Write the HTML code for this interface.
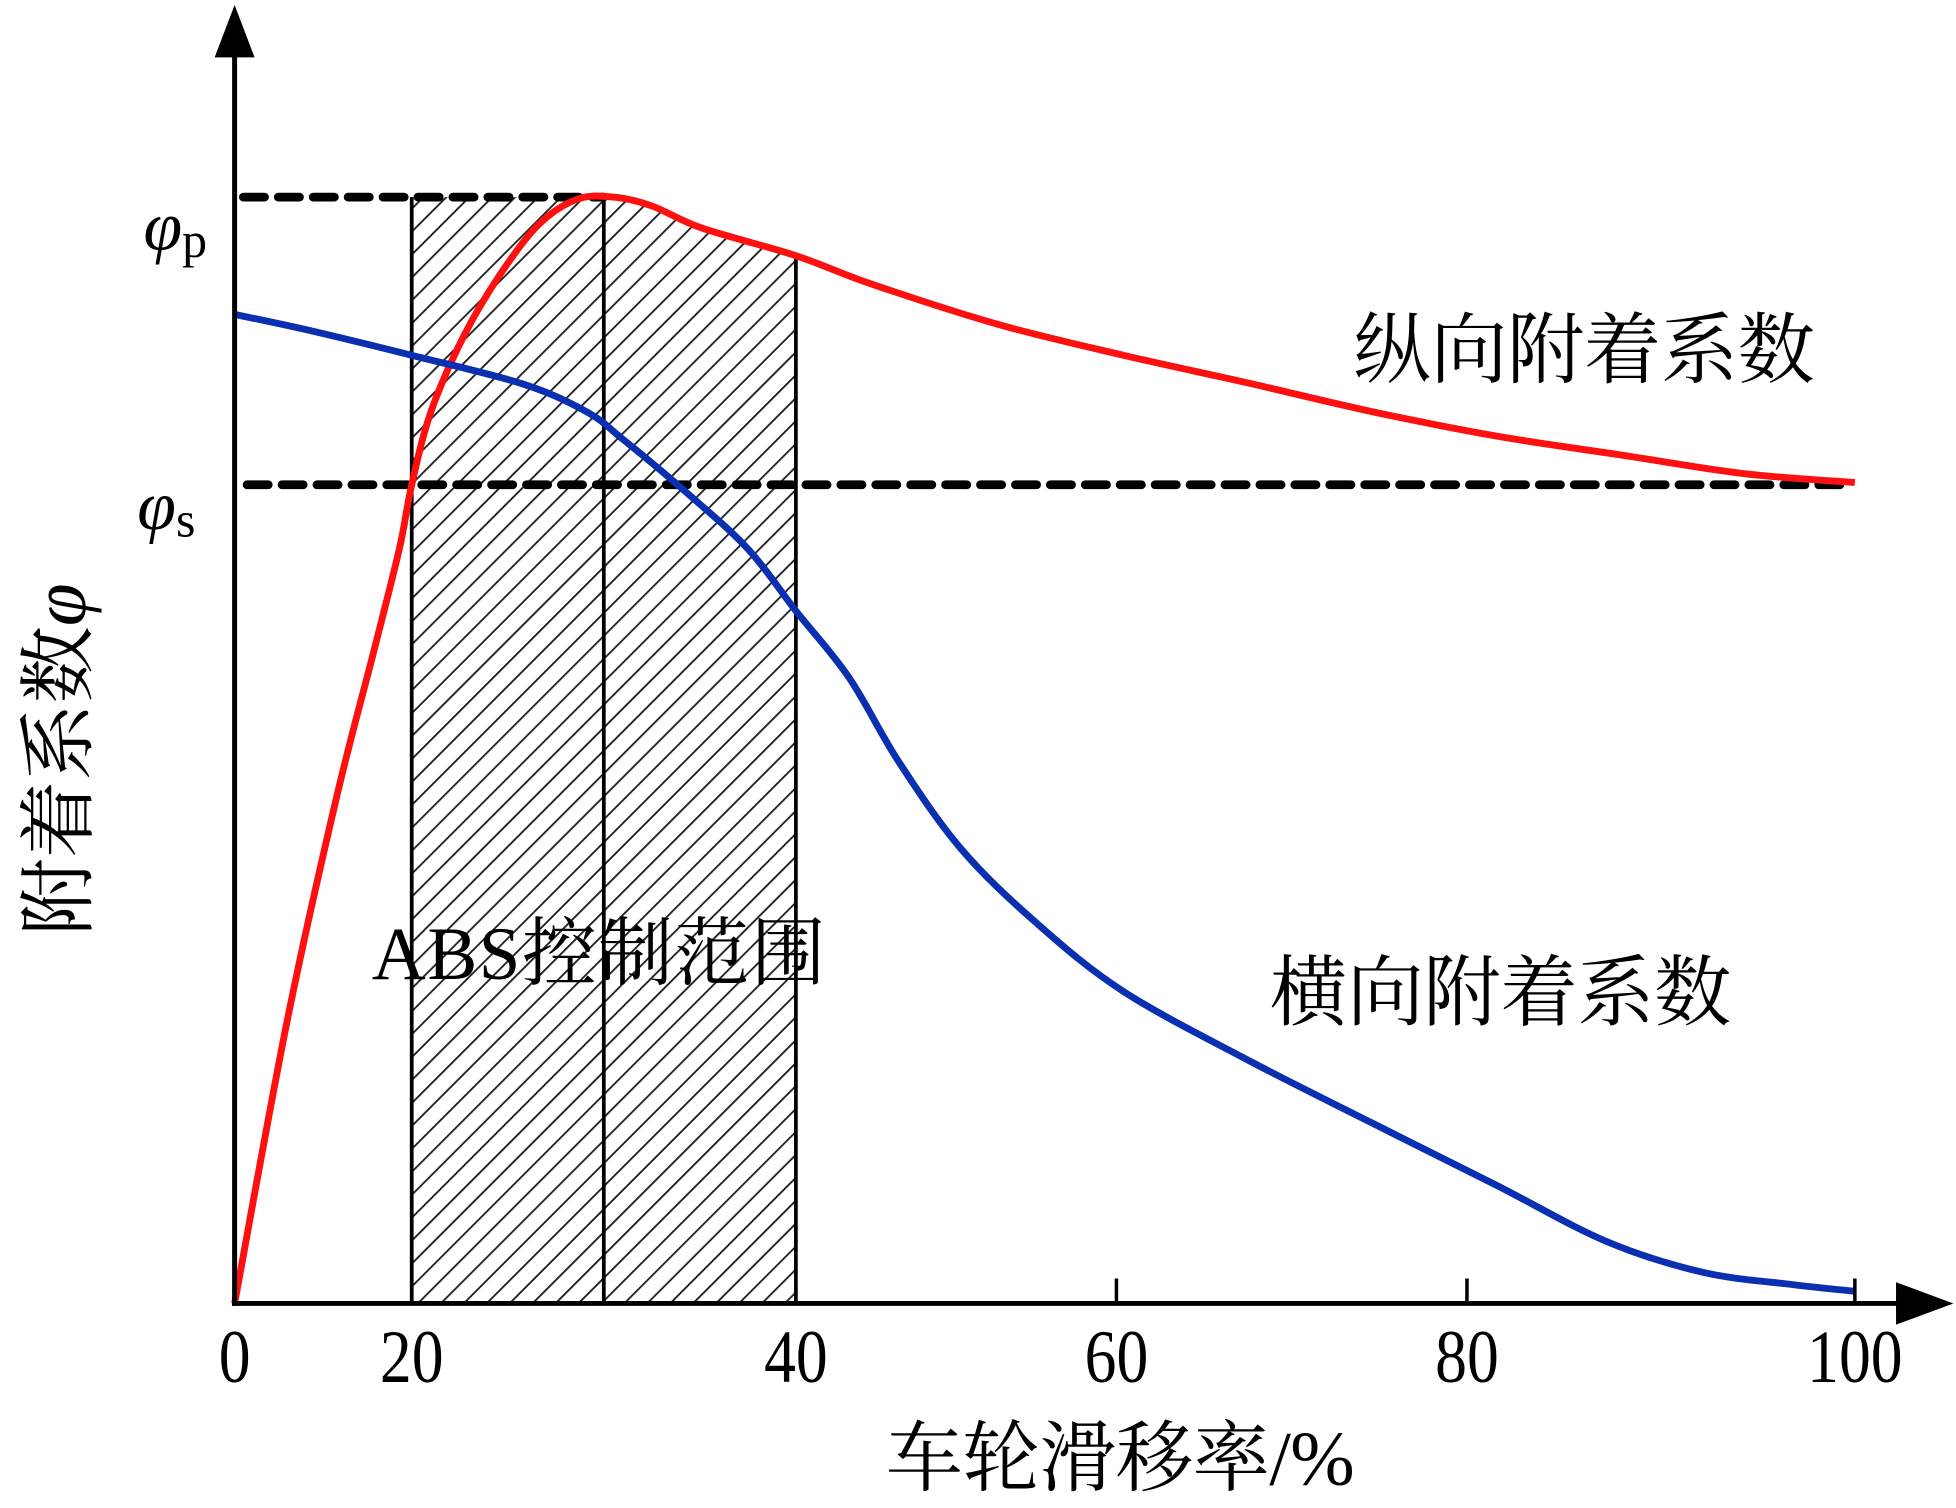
<!DOCTYPE html>
<html><head><meta charset="utf-8"><style>
html,body{margin:0;padding:0;background:#fff;}
svg{display:block;}
text{font-family:"Liberation Serif","Noto Serif CJK SC","Noto Sans CJK SC",serif;fill:#000;}
.cjk{font-family:"Liberation Serif","Noto Serif CJK SC",serif;}
</style></head><body>
<svg id="chart" width="1956" height="1508" viewBox="0 0 1568 1209" xmlns="http://www.w3.org/2000/svg">
<defs>
<pattern id="hatch" patternUnits="userSpaceOnUse" width="13" height="13" patternTransform="rotate(45)">
<line x1="0" y1="0" x2="0" y2="13" stroke="#222" stroke-width="3"/>
</pattern>
</defs>
<g id="plot"></g>
</svg>
<script>
const xTicks=[0,20,40,60,80,100];
const xTickPx=[188,330,638,895,1176,1487];
const phiP=1.0, phiS=0.74;
const zoneStart=20, zoneMid=30, zoneEnd=40;
const redX=[0,5.9,11.5,15.8,18.6,20,21,22.7,24.6,26.6,28.6,30.5,32.5,35.1,40,44.8,52.6,60.4,67.5,74.6,81.5,87.9,94.3,100];
const redY=[0,0.254,0.457,0.592,0.682,0.74,0.806,0.874,0.93,0.975,0.998,1.0,0.992,0.972,0.947,0.921,0.885,0.857,0.832,0.806,0.784,0.767,0.75,0.742];
const blueX=[0,8.7,20,25.8,29.1,31.0,34.3,37.5,40,43.3,46.4,50.3,55,60.4,67.5,74.6,81.5,87.2,92.2,96.8,100];
const blueY=[0.894,0.879,0.857,0.831,0.806,0.781,0.733,0.682,0.626,0.566,0.49,0.411,0.344,0.282,0.22,0.163,0.107,0.056,0.028,0.017,0.011];

const NS='http://www.w3.org/2000/svg';
const g=document.getElementById('plot');
const y0=1045, yScale=887;
function X(v){for(let i=0;i<xTicks.length-1;i++){if(v<=xTicks[i+1]||i===xTicks.length-2){const t=(v-xTicks[i])/(xTicks[i+1]-xTicks[i]);return xTickPx[i]+t*(xTickPx[i+1]-xTickPx[i]);}}}
function Y(v){return y0-v*yScale;}
function mk(tag,attrs){const e=document.createElementNS(NS,tag);for(const k in attrs)e.setAttribute(k,attrs[k]);g.appendChild(e);return e;}
function smooth(xs,ys){const p=xs.map((x,i)=>[X(x),Y(ys[i])]);let d='M'+p[0][0]+','+p[0][1];
for(let i=0;i<p.length-1;i++){const a=p[Math.max(0,i-1)],b=p[i],c=p[i+1],e=p[Math.min(p.length-1,i+2)];
d+=' C'+(b[0]+(c[0]-a[0])/6)+','+(b[1]+(c[1]-a[1])/6)+' '+(c[0]-(e[0]-b[0])/6)+','+(c[1]-(e[1]-b[1])/6)+' '+c[0]+','+c[1];}return d;}

let hp='M'+X(zoneStart)+','+Y(phiP)+' L'+X(zoneMid)+','+Y(phiP);
const sub=[];for(let i=0;i<redX.length;i++){if(redX[i]>zoneMid&&redX[i]<zoneEnd)sub.push(i);}
sub.forEach(i=>{hp+=' L'+X(redX[i])+','+Y(redY[i]);});
const iE=redX.indexOf(zoneEnd);
hp+=' L'+X(zoneEnd)+','+Y(redY[iE])+' L'+X(zoneEnd)+','+y0+' L'+X(zoneStart)+','+y0+' Z';
const hatch=mk('path',{d:hp,fill:'url(#hatch)'});



[[zoneStart,Y(phiP)],[zoneMid,Y(phiP)],[zoneEnd,Y(redY[iE])]].forEach((z,k)=>{
const l=mk('line',{x1:X(z[0]),y1:z[1],x2:X(z[0]),y2:y0,stroke:'#000','stroke-width':3});

});

const dp=mk('line',{x1:195,y1:Y(phiP),x2:X(zoneMid),y2:Y(phiP),stroke:'#000','stroke-width':7,'stroke-dasharray':'17,11','stroke-linecap':'round'});


const ds=mk('line',{x1:198,y1:Y(phiS),x2:1485,y2:Y(phiS),stroke:'#000','stroke-width':7,'stroke-dasharray':'17,11','stroke-linecap':'round'});



const rc=mk('path',{d:smooth(redX,redY),fill:'none',stroke:'#ff1010','stroke-width':5.5});


const bc=mk('path',{d:smooth(blueX,blueY),fill:'none',stroke:'#0a2fb0','stroke-width':5.5});



const ya=mk('line',{x1:188,y1:y0+2,x2:188,y2:40,stroke:'#000','stroke-width':4});


const yar=mk('polygon',{points:'188,4 172,46 204,46',fill:'#000'});


const xa=mk('line',{x1:186,y1:y0,x2:1525,y2:y0,stroke:'#000','stroke-width':4});


const xar=mk('polygon',{points:'1566,1045 1520,1028 1520,1062',fill:'#000'});



xTicks.forEach((t,i)=>{
if(t>=60){const tk=mk('line',{x1:X(t),y1:y0-20,x2:X(t),y2:y0,stroke:'#000','stroke-width':2.8});

}
const tl=mk('text',{x:0,y:0,'font-size':60,'text-anchor':'middle',transform:'translate('+X(t)+',1108) scale(0.85,1)'});tl.textContent=String(t);

});

function txt(s,attrs,name,cls){const e=mk('text',attrs);if(cls)e.setAttribute('class',cls);e.innerHTML=s;

return e;}
txt('<tspan font-style="italic">φ</tspan><tspan font-size="40" dy="6">p</tspan>',{x:115,y:200,'font-size':56},'phi-p-label');
txt('<tspan font-style="italic">φ</tspan><tspan font-size="40" dy="6">s</tspan>',{x:110,y:424,'font-size':56},'phi-s-label');
txt('纵向附着系数',{x:1085,y:302,'font-size':62,textLength:370},'longitudinal-label','cjk');
txt('横向附着系数',{x:1018,y:817,'font-size':62,textLength:370},'lateral-label','cjk');
txt('ABS控制范围',{x:298,y:785,'font-size':60,textLength:364},'abs-range-label','cjk');
txt('车轮滑移率/%',{x:710,y:1190,'font-size':62,textLength:376},'x-axis-title','cjk');
txt('附着系数<tspan font-style="italic" font-family="Liberation Serif">φ</tspan>',{x:0,y:0,'font-size':62,transform:'translate(68,750) rotate(-90)'},'y-axis-title','cjk');
</script>
</body></html>
